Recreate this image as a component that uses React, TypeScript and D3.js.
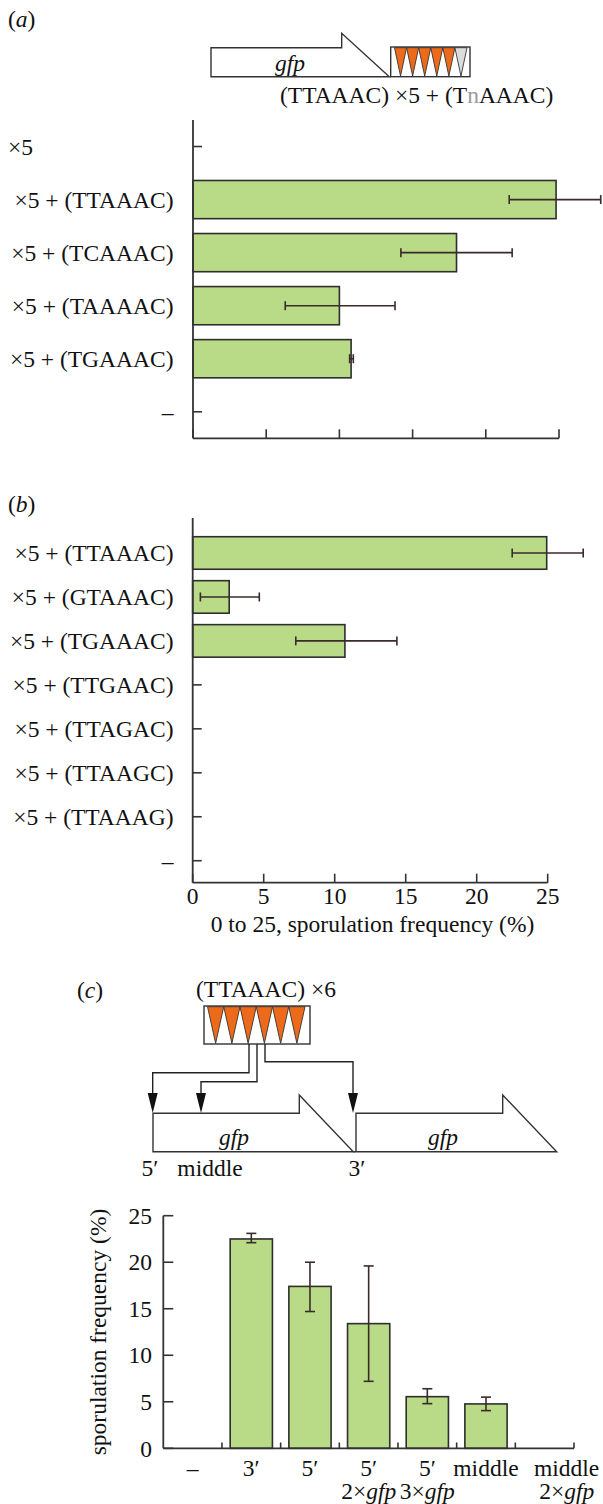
import React from "react";
import * as d3 from "d3";

// ---------- Data ----------
const aCategories = ["×5", "×5 + (TTAAAC)", "×5 + (TCAAAC)", "×5 + (TAAAAC)", "×5 + (TGAAAC)", "–"];
const aValues: (number | null)[] = [null, 24.8, 18.0, 10.0, 10.8, null];
const aErrLow: (number | null)[] = [null, 21.6, 14.2, 6.3, 10.7, null];
const aErrHigh: (number | null)[] = [null, 27.85, 21.8, 13.8, 10.95, null];
const aTicks = [0, 5, 10, 15, 20, 25];

const bCategories = ["×5 + (TTAAAC)", "×5 + (GTAAAC)", "×5 + (TGAAAC)", "×5 + (TTGAAC)", "×5 + (TTAGAC)", "×5 + (TTAAGC)", "×5 + (TTAAAG)", "–"];
const bValues: (number | null)[] = [24.93, 2.57, 10.72, null, null, null, null, null];
const bErrLow: (number | null)[] = [22.5, 0.54, 7.26, null, null, null, null, null];
const bErrHigh: (number | null)[] = [27.5, 4.69, 14.38, null, null, null, null, null];
const bTicks = [0, 5, 10, 15, 20, 25];

const cCategories = ["neg", "3p", "5p", "5p2", "5p3", "mid", "mid2"];
const cLine1 = ["–", "3′", "5′", "5′", "5′", "middle", "middle"];
const cLine2Prefix = ["", "", "", "2×", "3×", "", "2×"];
const cValues: (number | null)[] = [null, 22.5, 17.4, 13.4, 5.55, 4.77, null];
const cErrLow: (number | null)[] = [null, 22.1, 14.7, 7.2, 4.8, 4.05, null];
const cErrHigh: (number | null)[] = [null, 23.1, 20.0, 19.6, 6.4, 5.5, null];
const cTicks = [0, 5, 10, 15, 20, 25];

// ---------- Styles ----------
const FONT = "'Liberation Serif', 'Times New Roman', serif";
const FS = 23.5;
const TXT = "#111";
const BAR_FILL = "#b9da86";
const BAR_STROKE = "#2e2e2e";
const AX = "#333";
const ERR = "#3a2b2b";
const ORANGE = "#ec6a1a";

function HBarPanel(props: {
  cats: string[]; vals: (number | null)[]; lo: (number | null)[]; hi: (number | null)[];
  ticks: number[]; x0: number; x1: number; yTop: number; bandTop: number; yBottom: number;
  padding: number; tickLabels: boolean; leftFirst?: boolean;
}) {
  const { cats, vals, lo, hi, ticks, x0, x1, yTop, bandTop, yBottom, padding, tickLabels, leftFirst } = props;
  const x = d3.scaleLinear().domain([0, 25]).range([x0, x1]);
  const y = d3.scaleBand<string>().domain(cats).range([bandTop, yBottom]).paddingInner(padding).paddingOuter(padding / 2);
  const cap = 4.5;
  return (
    <g>
      {cats.map((c, i) => (
        <g key={"t" + i}>
          <line x1={x0} x2={x0 + 9} y1={y(c)! + y.bandwidth() / 2} y2={y(c)! + y.bandwidth() / 2} stroke={AX} strokeWidth={1.6} />
          <text
            x={leftFirst && i === 0 ? 8 : 173.5}
            y={y(c)! + y.bandwidth() / 2}
            dy="0.35em"
            textAnchor={leftFirst && i === 0 ? "start" : "end"}
            fontFamily={FONT} fontSize={FS} fill={TXT}
          >{c}</text>
        </g>
      ))}
      {ticks.map((t) => (
        <g key={"xt" + t}>
          <line x1={x(t)} x2={x(t)} y1={yBottom} y2={yBottom - 9} stroke={AX} strokeWidth={1.6} />
          {tickLabels && (
            <text x={x(t)} y={yBottom + 21} textAnchor="middle" fontFamily={FONT} fontSize={FS} fill={TXT}>{t}</text>
          )}
        </g>
      ))}
      {cats.map((c, i) =>
        vals[i] == null ? null : (
          <rect key={"b" + i} x={x(0)} y={y(c)!} width={x(vals[i]!) - x(0)} height={y.bandwidth()}
            fill={BAR_FILL} stroke={BAR_STROKE} strokeWidth={1.6} />
        )
      )}
      {cats.map((c, i) => {
        if (lo[i] == null || hi[i] == null) return null;
        const cy = y(c)! + y.bandwidth() / 2;
        return (
          <g key={"e" + i} stroke={ERR} strokeWidth={1.6}>
            <line x1={x(lo[i]!)} x2={x(hi[i]!)} y1={cy} y2={cy} />
            <line x1={x(lo[i]!)} x2={x(lo[i]!)} y1={cy - cap} y2={cy + cap} />
            <line x1={x(hi[i]!)} x2={x(hi[i]!)} y1={cy - cap} y2={cy + cap} />
          </g>
        );
      })}
      <line x1={x0} x2={x0} y1={yTop} y2={yBottom} stroke={AX} strokeWidth={1.8} />
      <line x1={x0} x2={x1} y1={yBottom} y2={yBottom} stroke={AX} strokeWidth={1.8} />
    </g>
  );
}

function Triangles(props: { x0: number; x1: number; y0: number; y1: number; n: number; colors: string[] }) {
  const { x0, x1, y0, y1, n, colors } = props;
  const w = (x1 - x0) / n;
  return (
    <g>
      {d3.range(n).map((i) => (
        <path key={i} d={`M${x0 + i * w},${y0} L${x0 + (i + 1) * w},${y0} L${x0 + (i + 0.5) * w},${y1} Z`}
          fill={colors[i]} stroke="#333" strokeWidth={0.9} />
      ))}
    </g>
  );
}

function ArrowDown({ x, y }: { x: number; y: number }) {
  return <path d={`M${x - 5},${y - 20} L${x + 5},${y - 20} L${x},${y} Z`} fill="#111" />;
}

export default function App() {
  // Panel c scales
  const cx = d3.scaleBand<string>().domain(cCategories).range([163.3, 574]).paddingInner(0.28).paddingOuter(0.14);
  const cy = d3.scaleLinear().domain([0, 25]).range([1448.3, 1215.7]);
  const step = cx.step();
  const bandStart = (i: number) => 163.3 + i * step;

  return (
    <div style={{ position: "absolute", left: 0, top: 0 }}>
      <svg width={603} height={1504} style={{ display: "block", background: "#fff" }}>
        {/* Panel (a) header */}
        <text x={8} y={27} fontFamily={FONT} fontSize={FS} fill={TXT}>(<tspan fontStyle="italic">a</tspan>)</text>
        <path d="M211,47.7 L341.7,47.7 L341.7,33.3 L389.3,76.7 L211,76.7 Z" fill="#fff" stroke="#333" strokeWidth={1.4} />
        <text x={290} y={71} textAnchor="middle" fontFamily={FONT} fontSize={FS} fontStyle="italic" fill={TXT}>gfp</text>
        <rect x={390.7} y={47} width={79.3} height={29.7} fill="#fff" stroke="#333" strokeWidth={1.4} />
        <Triangles x0={394.5} x1={467} y0={47.7} y1={76} n={6} colors={[ORANGE, ORANGE, ORANGE, ORANGE, ORANGE, "#dcdcdc"]} />
        <text x={280} y={103} fontFamily={FONT} fontSize={FS} fill={TXT}>
          (TTAAAC) ×5 + (T<tspan fill="#9a9a9a">n</tspan>AAAC)
        </text>

        <HBarPanel cats={aCategories} vals={aValues} lo={aErrLow} hi={aErrHigh} ticks={aTicks}
          x0={193} x1={559} yTop={120} bandTop={120} yBottom={438.3} padding={0.28} tickLabels={false} leftFirst />

        {/* Panel (b) */}
        <text x={8} y={512} fontFamily={FONT} fontSize={FS} fill={TXT}>(<tspan fontStyle="italic">b</tspan>)</text>
        <HBarPanel cats={bCategories} vals={bValues} lo={bErrLow} hi={bErrHigh} ticks={bTicks}
          x0={192.7} x1={547.7} yTop={518} bandTop={531} yBottom={882.7} padding={0.26} tickLabels />
        <text x={372.5} y={932} textAnchor="middle" fontFamily={FONT} fontSize={FS} fill={TXT}>0 to 25, sporulation frequency (%)</text>

        {/* Panel (c) diagram */}
        <text x={77} y={998} fontFamily={FONT} fontSize={FS} fill={TXT}>(<tspan fontStyle="italic">c</tspan>)</text>
        <text x={196} y={997} fontFamily={FONT} fontSize={FS} fill={TXT}>(TTAAAC) ×6</text>
        <rect x={204} y={1006} width={106} height={38} fill="#fff" stroke="#333" strokeWidth={1.4} />
        <Triangles x0={207.5} x1={305} y0={1006.7} y1={1043.3} n={6} colors={[ORANGE, ORANGE, ORANGE, ORANGE, ORANGE, ORANGE]} />
        <g fill="none" stroke="#222" strokeWidth={1.4}>
          <polyline points="249,1044 249,1072.7 152.7,1072.7 152.7,1095" />
          <polyline points="257,1044 257,1081.7 201,1081.7 201,1095" />
          <polyline points="265,1044 265,1061.7 353,1061.7 353,1095" />
        </g>
        <ArrowDown x={152.7} y={1113} />
        <ArrowDown x={201} y={1113} />
        <ArrowDown x={353} y={1113} />
        <path d="M153,1151.7 L153,1113.3 L299.3,1113.3 L299.3,1095 L353.3,1151.7 Z" fill="#fff" stroke="#333" strokeWidth={1.4} />
        <path d="M356,1151.7 L356,1113.3 L502.7,1113.3 L502.7,1095 L556.7,1151.7 L353.3,1151.7" fill="#fff" stroke="#333" strokeWidth={1.4} />
        <text x={234} y={1145} textAnchor="middle" fontFamily={FONT} fontSize={FS} fontStyle="italic" fill={TXT}>gfp</text>
        <text x={443} y={1145} textAnchor="middle" fontFamily={FONT} fontSize={FS} fontStyle="italic" fill={TXT}>gfp</text>
        <text x={150} y={1176} textAnchor="middle" fontFamily={FONT} fontSize={FS} fill={TXT}>5′</text>
        <text x={210} y={1176} textAnchor="middle" fontFamily={FONT} fontSize={FS} fill={TXT}>middle</text>
        <text x={357} y={1176} textAnchor="middle" fontFamily={FONT} fontSize={FS} fill={TXT}>3′</text>

        {/* Panel (c) bar chart */}
        <text transform={`translate(98,1332) rotate(-90)`} textAnchor="middle" dy="0.35em" fontFamily={FONT} fontSize={FS} fill={TXT}>sporulation frequency (%)</text>
        {cTicks.map((t) => (
          <g key={"cy" + t}>
            <line x1={163.3} x2={173.3} y1={cy(t)} y2={cy(t)} stroke={AX} strokeWidth={1.6} />
            <text x={152} y={cy(t)} dy="0.35em" textAnchor="end" fontFamily={FONT} fontSize={FS} fill={TXT}>{t}</text>
          </g>
        ))}
        {cCategories.map((c, i) => (
          <line key={"cxt" + i} x1={bandStart(i + 1)} x2={bandStart(i + 1)} y1={1448.3} y2={1442.5} stroke={AX} strokeWidth={1.6} />
        ))}
        {cCategories.map((c, i) =>
          cValues[i] == null ? null : (
            <rect key={"cb" + i} x={cx(c)!} y={cy(cValues[i]!)} width={cx.bandwidth()} height={cy(0) - cy(cValues[i]!)}
              fill={BAR_FILL} stroke={BAR_STROKE} strokeWidth={1.6} />
          )
        )}
        {cCategories.map((c, i) => {
          if (cErrLow[i] == null || cErrHigh[i] == null) return null;
          const mx = cx(c)! + cx.bandwidth() / 2;
          return (
            <g key={"ce" + i} stroke={ERR} strokeWidth={1.6}>
              <line x1={mx} x2={mx} y1={cy(cErrLow[i]!)} y2={cy(cErrHigh[i]!)} />
              <line x1={mx - 5} x2={mx + 5} y1={cy(cErrLow[i]!)} y2={cy(cErrLow[i]!)} />
              <line x1={mx - 5} x2={mx + 5} y1={cy(cErrHigh[i]!)} y2={cy(cErrHigh[i]!)} />
            </g>
          );
        })}
        <line x1={163.3} x2={163.3} y1={1215.7} y2={1448.3} stroke={AX} strokeWidth={1.8} />
        <line x1={163.3} x2={574} y1={1448.3} y2={1448.3} stroke={AX} strokeWidth={1.8} />
        {cCategories.map((c, i) => {
          const mx = cx(c)! + cx.bandwidth() / 2 + (i === cCategories.length - 1 ? 22 : 0);
          return (
            <g key={"cl" + i}>
              <text x={mx} y={1476} textAnchor="middle" fontFamily={FONT} fontSize={FS} fill={TXT}>{cLine1[i]}</text>
              {cLine2Prefix[i] && (
                <text x={mx} y={1499} textAnchor="middle" fontFamily={FONT} fontSize={FS} fill={TXT}>
                  {cLine2Prefix[i]}<tspan fontStyle="italic">gfp</tspan>
                </text>
              )}
            </g>
          );
        })}
      </svg>
    </div>
  );
}
